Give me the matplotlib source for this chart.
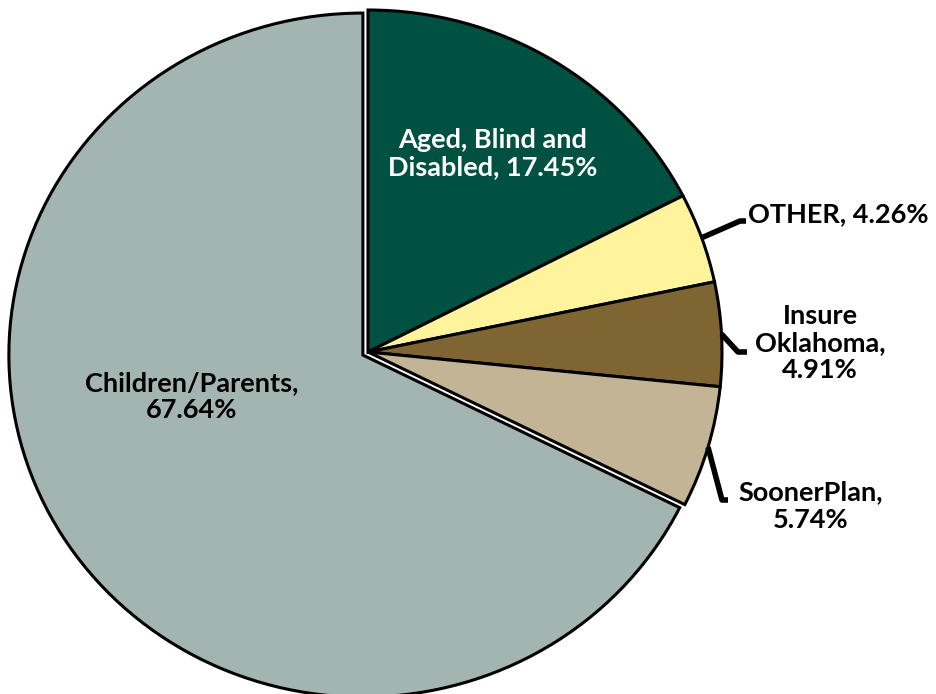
import matplotlib.pyplot as plt
import numpy as np

labels = ['Aged, Blind and\nDisabled, 17.45%', 'OTHER, 4.26%',
          'Insure\nOklahoma,\n4.91%', 'SoonerPlan,\n5.74%',
          'Children/Parents,\n67.64%']
shares = [17.45, 4.26, 4.91, 5.74, 67.64]
colors = ['#005142', '#fff39b', '#7f6532', '#c4b496', '#a3b5b0']

plt.rcParams['font.family'] = ['Lato', 'DejaVu Sans']

# pie centre (pixels) and the two radii - the chart is a little squashed
cx, cy = 368, 352
rx, ry = 354, 342
W, H = 937, 694


def px(x, y):
    '''pixel position -> data coords of the pie axes'''
    return (x - cx) / rx, (cy - y) / ry


fig = plt.figure(figsize=(W / 100, H / 100), dpi=100)
ax = fig.add_axes([0, 0, 1, 1])
wedges, _ = ax.pie(shares, colors=colors, startangle=90, counterclock=False,
                   explode=[0, 0, 0, 0, 0.017],
                   wedgeprops=dict(edgecolor='black', linewidth=2.2))
ax.set_aspect('auto')
ax.set_xlim(-cx / rx, (W - cx) / rx)
ax.set_ylim(-(H - cy) / ry, cy / ry)
ax.axis('off')

fs = 19.5
fw = 'bold'
ls = 1.15
ax.text(*px(493, 154), labels[0], color='white', fontsize=fs,
        fontweight=fw, ha='center', va='center', linespacing=ls)
ax.text(*px(192, 397), labels[4], color='black', fontsize=fs,
        fontweight=fw, ha='center', va='center', linespacing=ls)

# outside labels with leader lines from the middle of each wedge's arc
outside = {1: ((740, 221), (746, 221), (748, 214), 'left'),
           2: ((738, 352), (747, 352), (820, 343), 'center'),
           3: ((722, 500), (728, 500), (811, 506), 'center')}
for i, (elbow, end, tpos, ha) in outside.items():
    w = wedges[i]
    mid = np.deg2rad((w.theta1 + w.theta2) / 2)
    x0, y0 = np.cos(mid), np.sin(mid)
    xs = [x0, px(*elbow)[0], px(*end)[0]]
    ys = [y0, px(*elbow)[1], px(*end)[1]]
    ax.plot(xs, ys, color='black', linewidth=4, solid_capstyle='butt')
    ax.text(*px(*tpos), labels[i], color='black', fontsize=fs,
            fontweight=fw, ha=ha, va='center', linespacing=ls)

plt.savefig('out.png', dpi=100)
